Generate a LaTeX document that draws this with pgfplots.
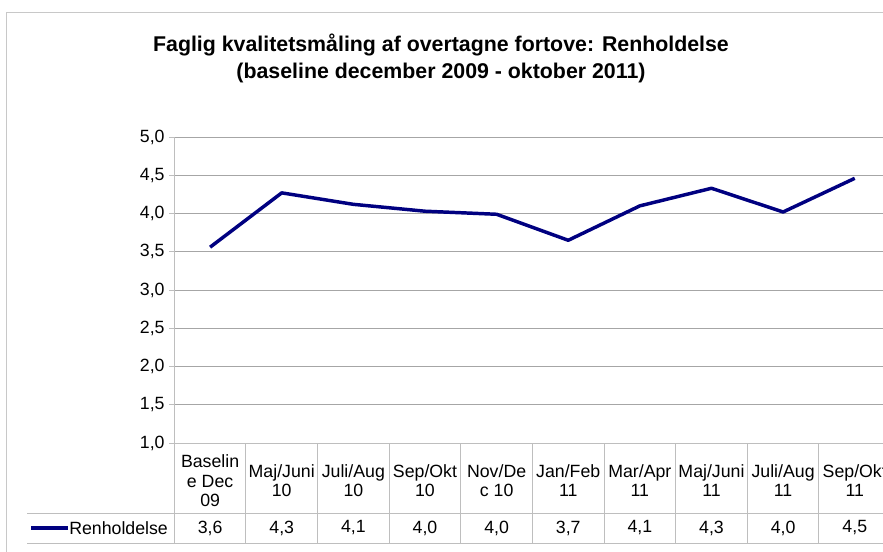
\documentclass[border=0pt]{standalone}
\usepackage{pgfplots}
\pgfplotsset{compat=1.18}
\usepackage{fontspec}
\setmainfont{Liberation Sans}
\definecolor{navyline}{RGB}{0,0,128}
\definecolor{gridgray}{RGB}{166,166,166}
\definecolor{tablegray}{RGB}{190,190,190}
\definecolor{bordergray}{RGB}{200,200,200}
\newcommand\tfont{\fontsize{13.3}{14.3}\selectfont}
\begin{document}
\begin{tikzpicture}
\path[x=0.75pt,y=-0.75pt,use as bounding box] (0,0) rectangle (883,551);
\clip[x=0.75pt,y=-0.75pt] (0,0) rectangle (883,551);
% outer chart border
\draw[x=0.75pt,y=-0.75pt,bordergray,line width=1.2pt] (6.5,700) -- (6.5,12.5) -- (1000,12.5);
\begin{axis}[
  at={(130.725pt,-332.25pt)}, anchor=south west,
  scale only axis, width=537.2pt, height=229.5pt,
  xmin=0, xmax=10, ymin=1, ymax=5,
  ytick={1,1.5,2,2.5,3,3.5,4,4.5,5},
  xtick={0.5,1.5,2.5,3.5,4.5,5.5,6.5,7.5,8.5,9.5},
  xticklabels={{Baselin\\e Dec\\09},{Maj/Juni\\10},{Juli/Aug\\10},{Sep/Okt\\10},{Nov/De\\c 10},{Jan/Feb\\11},{Mar/Apr\\11},{Maj/Juni\\11},{Juli/Aug\\11},{Sep/Okt\\11}},
  xtick style={draw=none},
  xticklabel style={anchor=center, align=center, yshift=-24.5pt},
  /pgf/number format/assume math mode=true,
  y tick label style={/pgf/number format/fixed, /pgf/number format/fixed zerofill, /pgf/number format/precision=1, /pgf/number format/use comma},
  tick label style={font=\tfont},
  axis x line*=bottom, axis y line*=left,
  axis line style={tablegray, line width=0.75pt},
  ytick style={tablegray, line width=0.75pt},
  tick align=outside, major tick length=3.75pt,
  ymajorgrids, major grid style={gridgray, line width=0.75pt},
  clip=false,
]
\addplot[navyline, line width=2.6pt, line join=round, mark=none] coordinates {
  (0.5,3.56) (1.5,4.27) (2.5,4.12) (3.5,4.03) (4.5,3.99)
  (5.5,3.65) (6.5,4.10) (7.5,4.33) (8.5,4.02) (9.5,4.46)};
\end{axis}
\begin{scope}[x=0.75pt,y=-0.75pt]
  % table lines
  \draw[tablegray, line width=0.75pt] (27,513) -- (900,513);
  \draw[tablegray, line width=0.75pt] (27,543) -- (900,543);
  \foreach \k in {0,...,10} {
    \draw[tablegray, line width=0.75pt] ({174.3+71.63*\k},443) -- ({174.3+71.63*\k},543);
  }
  % legend key
  \draw[navyline, line width=2.6pt] (31,528) -- (68,528);
  \node[anchor=west, inner sep=0pt, font=\tfont] at (69,528) {Renholdelse};
  % values row
  \foreach \i/\v in {0/{3,6},1/{4,3},2/{4,1},3/{4,0},4/{4,0},5/{3,7},6/{4,1},7/{4,3},8/{4,0},9/{4,5}} {
    \node[font=\tfont, inner sep=0pt] at ({174.3+71.63*(\i+0.5)},528) {\v};
  }
  % title
  \node[align=center, font=\fontsize{16}{20.3}\selectfont\bfseries] at (441,58.5)
    {Faglig kvalitetsmåling af overtagne fortove: Renholdelse\\(baseline december 2009 - oktober 2011)};
\end{scope}
\end{tikzpicture}
\end{document}
